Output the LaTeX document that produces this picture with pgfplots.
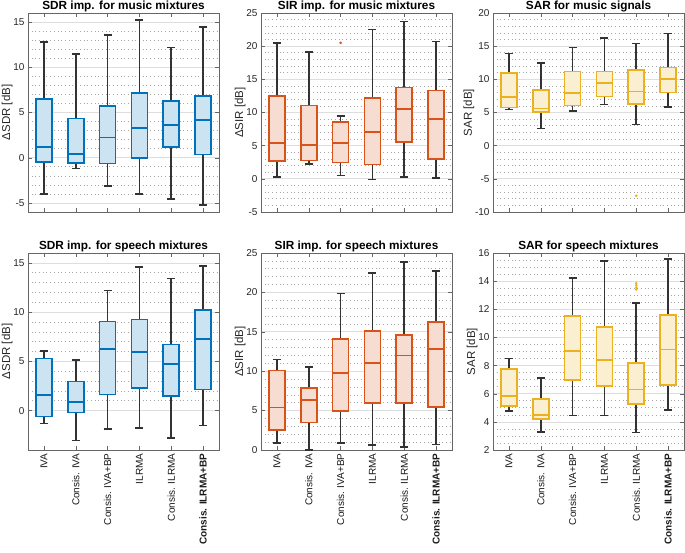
\documentclass[border=0pt]{standalone}
\usepackage{fontspec}
\setmainfont{Liberation Sans}
\usepackage{pgfplots}
\pgfplotsset{compat=1.18}
\usepgfplotslibrary{statistics}
\definecolor{cb}{RGB}{0,114,189}
\definecolor{co}{RGB}{217,83,25}
\definecolor{cy}{RGB}{237,177,32}
\pgfplotsset{
  base/.style={scale only axis, width=191pt, xmin=0.5, xmax=6.5, xtick={1,2,3,4,5,6},
    tick align=inside, ymajorgrids, yminorgrids, minor tick length=0pt,
    major grid style={black!13, line width=0.7pt},
    minor grid style={black!35, line width=0.6pt, dash pattern=on 0.7pt off 3pt},
    axis line style={black!60, line width=0.6pt}, every tick/.style={black!60},
    tick label style={font=\fontsize{10}{12}\selectfont, black!85},
    /pgf/number format/assume math mode=true,
    title style={anchor=base, yshift=-2.5pt, font=\bfseries\fontsize{11.8}{13}\selectfont},
    ylabel style={font=\fontsize{11.5}{13}\selectfont, black!85}, ylabel shift=-6pt,
    boxplot/draw direction=y,
    boxplot/box extend=0.5, boxplot/whisker extend=0.25},
  toprow/.style={base, height=199pt, xticklabels={}},
  botrow/.style={base, height=197pt,
    xticklabels={IVA, Consis. IVA, Consis. IVA+BP, ILRMA, Consis. ILRMA, \textbf{Consis. ILRMA+BP}},
    xticklabel style={rotate=90, anchor=east, font=\fontsize{10}{12}\selectfont, black!90}},
  bp/.style={solid, line width=1.7pt, mark=*, mark size=1.1pt, mark options={draw=#1, fill=#1, line width=0.4pt},
    boxplot/every box/.style={draw=#1, fill=#1!20, line width=1.7pt},
    boxplot/every median/.style={draw=#1, line width=1.7pt},
    boxplot/every whisker/.style={draw=black!80, line width=1.7pt}},
}
\newcommand{\bx}[7]{\addplot[bp=#1, boxplot prepared={draw position=#2, lower whisker=#3, lower quartile=#4, median=#5, upper quartile=#6, upper whisker=#7}] coordinates {};}
\begin{document}
\begin{tikzpicture}[x=1pt,y=1pt]
\path[use as bounding box] (0,0) rectangle (685,552);
% SDR music
\begin{axis}[toprow, at={(28pt,340pt)}, anchor=south west, ymin=-6, ymax=16, ytick={-5,0,5,10,15}, minor y tick num=4,
  title={SDR imp. for music mixtures}, ylabel={ΔSDR [dB]}]
\bx{cb}{1}{-4.0}{-0.5}{1.2}{6.5}{12.8}
\bx{cb}{2}{-1.2}{-0.6}{0.45}{4.35}{11.5}
\bx{cb}{3}{-3.1}{-0.65}{2.25}{5.7}{13.6}
\bx{cb}{4}{-4.0}{0.0}{3.25}{7.15}{15.2}
\bx{cb}{5}{-4.6}{1.15}{3.65}{6.25}{12.2}
\bx{cb}{6}{-5.25}{0.35}{4.15}{6.8}{14.45}
\end{axis}
% SIR music
\begin{axis}[toprow, at={(261pt,340pt)}, anchor=south west, ymin=-5, ymax=25, ytick={-5,0,5,10,15,20,25}, minor y tick num=4,
  title={SIR imp. for music mixtures}, ylabel={ΔSIR [dB]}]
\bx{co}{1}{0.3}{2.65}{5.4}{12.45}{20.5}
\bx{co}{2}{2.2}{2.75}{5.15}{11.05}{19.1}
\addplot[bp=co, boxplot prepared={draw position=3, lower whisker=0.5, lower quartile=2.45, median=5.35, upper quartile=8.6, upper whisker=9.45}] coordinates {(3,20.5)};
\bx{co}{4}{-0.1}{2.15}{7.1}{12.2}{22.5}
\bx{co}{5}{0.25}{5.55}{10.5}{13.75}{23.7}
\bx{co}{6}{0.1}{3.0}{9.0}{13.3}{20.7}
\end{axis}
% SAR music
\begin{axis}[toprow, at={(493pt,340pt)}, anchor=south west, ymin=-10, ymax=20, ytick={-10,-5,0,5,10,15,20}, minor y tick num=4,
  title={SAR for music signals}, ylabel={SAR [dB]}]
\bx{cy}{1}{5.45}{5.75}{7.3}{11.0}{13.9}
\bx{cy}{2}{2.6}{5.1}{5.6}{8.4}{12.5}
\bx{cy}{3}{5.2}{6.05}{7.9}{11.2}{14.8}
\bx{cy}{4}{6.2}{7.4}{9.45}{11.2}{16.2}
\addplot[bp=cy, boxplot prepared={draw position=5, lower whisker=3.2, lower quartile=6.25, median=8.15, upper quartile=11.45, upper whisker=15.4}] coordinates {(5,-7.55)};
\bx{cy}{6}{5.8}{8.0}{10.1}{11.8}{16.9}
\end{axis}
% SDR speech
\begin{axis}[botrow, at={(28pt,102pt)}, anchor=south west, ymin=-4, ymax=16, ytick={0,5,10,15}, minor y tick num=4,
  title={SDR imp. for speech mixtures}, ylabel={ΔSDR [dB]}]
\bx{cb}{1}{-1.3}{-0.6}{1.6}{5.3}{6.05}
\bx{cb}{2}{-3.05}{-0.2}{0.9}{2.95}{5.15}
\bx{cb}{3}{-1.9}{1.65}{6.25}{9.05}{12.2}
\bx{cb}{4}{-1.8}{2.3}{5.95}{9.25}{14.6}
\bx{cb}{5}{-2.75}{1.5}{4.7}{6.7}{13.4}
\bx{cb}{6}{-1.5}{2.15}{7.3}{10.2}{14.65}
\end{axis}
% SIR speech
\begin{axis}[botrow, at={(261pt,102pt)}, anchor=south west, ymin=0, ymax=25, ytick={0,5,10,15,20,25}, minor y tick num=4,
  title={SIR imp. for speech mixtures}, ylabel={ΔSIR [dB]}]
\bx{co}{1}{0.85}{2.5}{5.4}{10.1}{11.5}
\bx{co}{2}{0.0}{3.5}{6.35}{7.9}{10.55}
\bx{co}{3}{0.85}{4.95}{9.8}{14.05}{19.85}
\bx{co}{4}{0.65}{5.95}{11.0}{15.1}{22.45}
\bx{co}{5}{0.4}{6.0}{12.0}{14.55}{23.9}
\bx{co}{6}{0.7}{5.45}{12.85}{16.2}{22.7}
\end{axis}
% SAR speech
\begin{axis}[botrow, at={(493pt,102pt)}, anchor=south west, ymin=2, ymax=16, ytick={2,4,6,8,10,12,14,16}, minor y tick num=3,
  title={SAR for speech mixtures}, ylabel={SAR [dB]}]
\bx{cy}{1}{4.75}{5.15}{5.85}{7.75}{8.5}
\bx{cy}{2}{3.3}{4.2}{4.5}{5.6}{7.1}
\bx{cy}{3}{4.45}{6.95}{9.05}{11.5}{14.2}
\bx{cy}{4}{4.45}{6.55}{8.4}{10.75}{15.45}
\addplot[bp=cy, boxplot prepared={draw position=5, lower whisker=3.25, lower quartile=5.25, median=6.3, upper quartile=8.2, upper whisker=12.45}] coordinates {(5,13.4) (5,13.55) (5,13.7) (5,13.85)};
\bx{cy}{6}{4.85}{6.6}{9.15}{11.6}{15.55}
\end{axis}
\end{tikzpicture}
\end{document}
